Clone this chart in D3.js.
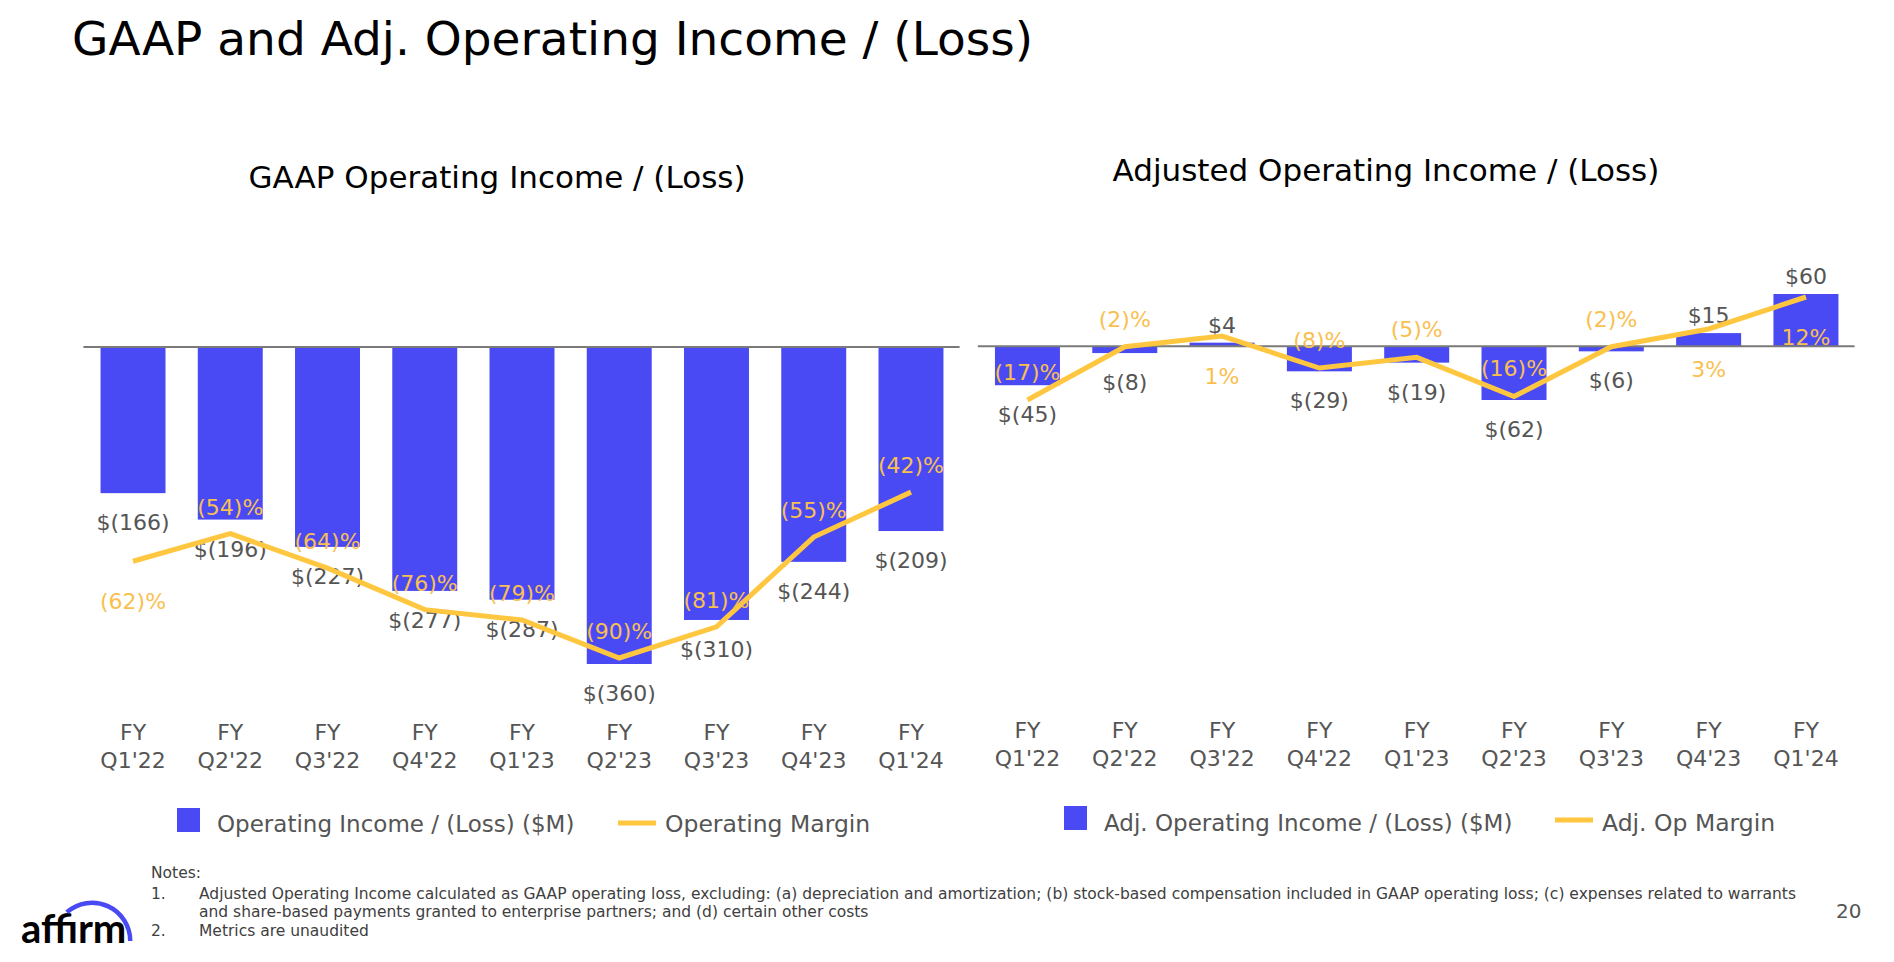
<!DOCTYPE html>
<html>
<head>
<meta charset="utf-8">
<script src="https://cdn.jsdelivr.net/npm/d3@7"></script>
<style>
  body { margin: 0; background: #ffffff; }
  svg { display: block; font-family: 'DejaVu Sans', sans-serif; }
</style>
</head>
<body>
<svg id="chart" width="1894" height="962"></svg>
<script>
// ---------------- DATA ----------------
const fiscalPrefix = "FY";
const quarters = ["Q1'22", "Q2'22", "Q3'22", "Q4'22", "Q1'23", "Q2'23", "Q3'23", "Q4'23", "Q1'24"];
const gaapOperatingIncome = [-166, -196, -227, -277, -287, -360, -310, -244, -209];   // $M
const gaapOperatingMargin = [-62, -54, -64, -76, -79, -90, -81, -55, -42];           // %
const adjOperatingIncome = [-45, -8, 4, -29, -19, -62, -6, 15, 60];                  // $M
const adjOperatingMargin = [-17, -2, 1, -8, -5, -16, -2, 3, 12];                     // %

const titleText = "GAAP and Adj. Operating Income / (Loss)";
const leftTitle = "GAAP Operating Income / (Loss)";
const rightTitle = "Adjusted Operating Income / (Loss)";
const leftLegend = ["Operating Income / (Loss) ($M)", "Operating Margin"];
const rightLegend = ["Adj. Operating Income / (Loss) ($M)", "Adj. Op Margin"];
const notesHeader = "Notes:";
const notes = [
  ["1.", "Adjusted Operating Income calculated as GAAP operating loss, excluding: (a) depreciation and amortization; (b) stock-based compensation included in GAAP operating loss; (c) expenses related to warrants",
         "and share-based payments granted to enterprise partners; and (d) certain other costs"],
  ["2.", "Metrics are unaudited"]
];
const pageNumber = "20";

// label placement (style): margin label drawn below the line point
const leftMarginBelow  = [true, false, false, false, false, false, false, false, false];
const rightMarginBelow = [false, false, true, false, false, false, false, true, true];

// ---------------- STYLE ----------------
const BAR = "#4A4AF4";
const LINE = "#FFC63F";
const MLABEL = "#F9C050";
const TXT = "#555555";
const AXIS = "#7a7a7a";

const svg = d3.select("#chart");

// Title
svg.append("text").attr("x", 72).attr("y", 55)
  .attr("font-size", 47).attr("fill", "#000").text(titleText);

const fmtMoney = v => v < 0 ? `$(${Math.abs(v)})` : `$${v}`;
const fmtPct = v => v < 0 ? `(${Math.abs(v)})%` : `${v}%`;

function panel(cfg) {
  const g = svg.append("g");
  const x = d3.scaleBand().domain(quarters).range(cfg.xRange).paddingInner(0.332).paddingOuter(0.166);
  const y = d3.scaleLinear().domain(cfg.yDomain).range(cfg.yRange);
  const y2 = d3.scaleLinear().domain(cfg.y2Domain).range(cfg.y2Range);

  // subtitle
  g.append("text").attr("x", cfg.subX).attr("y", cfg.subY).attr("text-anchor", "middle")
    .attr("font-size", 31).attr("fill", "#000").text(cfg.subtitle);

  // bars
  g.selectAll("rect.bar").data(cfg.income).join("rect").attr("class", "bar")
    .attr("x", (d, i) => x(quarters[i]))
    .attr("width", x.bandwidth())
    .attr("y", d => Math.min(y(d), y(0)))
    .attr("height", d => Math.abs(y(d) - y(0)))
    .attr("fill", BAR);

  // zero axis line
  g.append("line").attr("x1", cfg.xRange[0] - 1).attr("x2", cfg.xRange[1])
    .attr("y1", y(0)).attr("y2", y(0)).attr("stroke", AXIS).attr("stroke-width", 2);

  // bar value labels
  g.selectAll("text.val").data(cfg.income).join("text").attr("class", "val")
    .attr("x", (d, i) => x(quarters[i]) + x.bandwidth() / 2)
    .attr("y", d => d < 0 ? y(d) + 37 : y(d) - 10)
    .attr("text-anchor", "middle").attr("font-size", 22).attr("fill", TXT)
    .text(fmtMoney);

  // margin line
  const line = d3.line().x((d, i) => x(quarters[i]) + x.bandwidth() / 2).y(d => y2(d));
  g.append("path").datum(cfg.margin).attr("d", line)
    .attr("fill", "none").attr("stroke", LINE).attr("stroke-width", 5).attr("stroke-linejoin", "miter");

  // margin labels
  g.selectAll("text.pct").data(cfg.margin).join("text").attr("class", "pct")
    .attr("x", (d, i) => x(quarters[i]) + x.bandwidth() / 2)
    .attr("y", (d, i) => cfg.below[i] ? y2(d) + 48 : y2(d) - cfg.aboveOff)
    .attr("text-anchor", "middle").attr("font-size", 22).attr("fill", MLABEL)
    .text(fmtPct);

  // category axis (two lines)
  const cat = g.selectAll("g.cat").data(quarters).join("g").attr("class", "cat")
    .attr("transform", d => `translate(${x(d) + x.bandwidth() / 2},0)`);
  cat.append("text").attr("y", cfg.catY1).attr("text-anchor", "middle")
    .attr("font-size", 22).attr("fill", TXT).text(fiscalPrefix);
  cat.append("text").attr("y", cfg.catY2).attr("text-anchor", "middle")
    .attr("font-size", 22).attr("fill", TXT).text(d => d);

  // legend
  const L = cfg.legend;
  g.append("rect").attr("x", L.sqX).attr("y", L.sqY).attr("width", 23).attr("height", 24).attr("fill", BAR);
  g.append("text").attr("x", L.t1X).attr("y", L.ty).attr("font-size", 23).attr("fill", TXT).text(cfg.legendText[0]);
  g.append("line").attr("x1", L.lX).attr("x2", L.lX + 38).attr("y1", L.lY).attr("y2", L.lY)
    .attr("stroke", LINE).attr("stroke-width", 5);
  g.append("text").attr("x", L.t2X).attr("y", L.ty).attr("font-size", 23.5).attr("fill", TXT).text(cfg.legendText[1]);
}

panel({
  xRange: [84.4, 959.6],
  yDomain: [-360, 0], yRange: [664, 347],
  y2Domain: [-90, 0], y2Range: [658, 347],
  income: gaapOperatingIncome, margin: gaapOperatingMargin, below: leftMarginBelow,
  aboveOff: 19,
  subtitle: leftTitle, subX: 497, subY: 188,
  catY1: 740, catY2: 768,
  legendText: leftLegend,
  legend: { sqX: 177, sqY: 808, t1X: 217, ty: 832, lX: 618, lY: 823, t2X: 665 }
});

panel({
  xRange: [978.8, 1854.6],
  yDomain: [-62, 60], yRange: [400, 294],
  y2Domain: [-17, 12], y2Range: [400, 297],
  income: adjOperatingIncome, margin: adjOperatingMargin, below: rightMarginBelow,
  aboveOff: 20,
  subtitle: rightTitle, subX: 1386, subY: 181,
  catY1: 738, catY2: 766,
  legendText: rightLegend,
  legend: { sqX: 1064, sqY: 806, t1X: 1104, ty: 831, lX: 1555, lY: 820, t2X: 1602 }
});

// Notes
const notesG = svg.append("g").attr("fill", "#404040").attr("font-size", 15.5);
notesG.append("text").attr("x", 151).attr("y", 878).text(notesHeader);
notesG.append("text").attr("x", 151).attr("y", 899).text(notes[0][0]);
notesG.append("text").attr("x", 199).attr("y", 899).text(notes[0][1]);
notesG.append("text").attr("x", 199).attr("y", 917).text(notes[0][2]);
notesG.append("text").attr("x", 151).attr("y", 936).text(notes[1][0]);
notesG.append("text").attr("x", 199).attr("y", 936).text(notes[1][1]);

// page number
svg.append("text").attr("x", 1836).attr("y", 918).attr("font-size", 20).attr("fill", TXT).text(pageNumber);

// affirm logo
svg.append("text").attr("x", 21).attr("y", 943).attr("font-family", "Lato, sans-serif")
  .attr("font-weight", 700).attr("font-size", 40).attr("fill", "#000").text("affirm");
svg.append("path")
  .attr("transform", "translate(92,941)")
  .attr("d", d3.arc().innerRadius(36).outerRadius(40.5).startAngle(-0.72).endAngle(Math.PI / 2)())
  .attr("fill", BAR);
</script>
</body>
</html>
